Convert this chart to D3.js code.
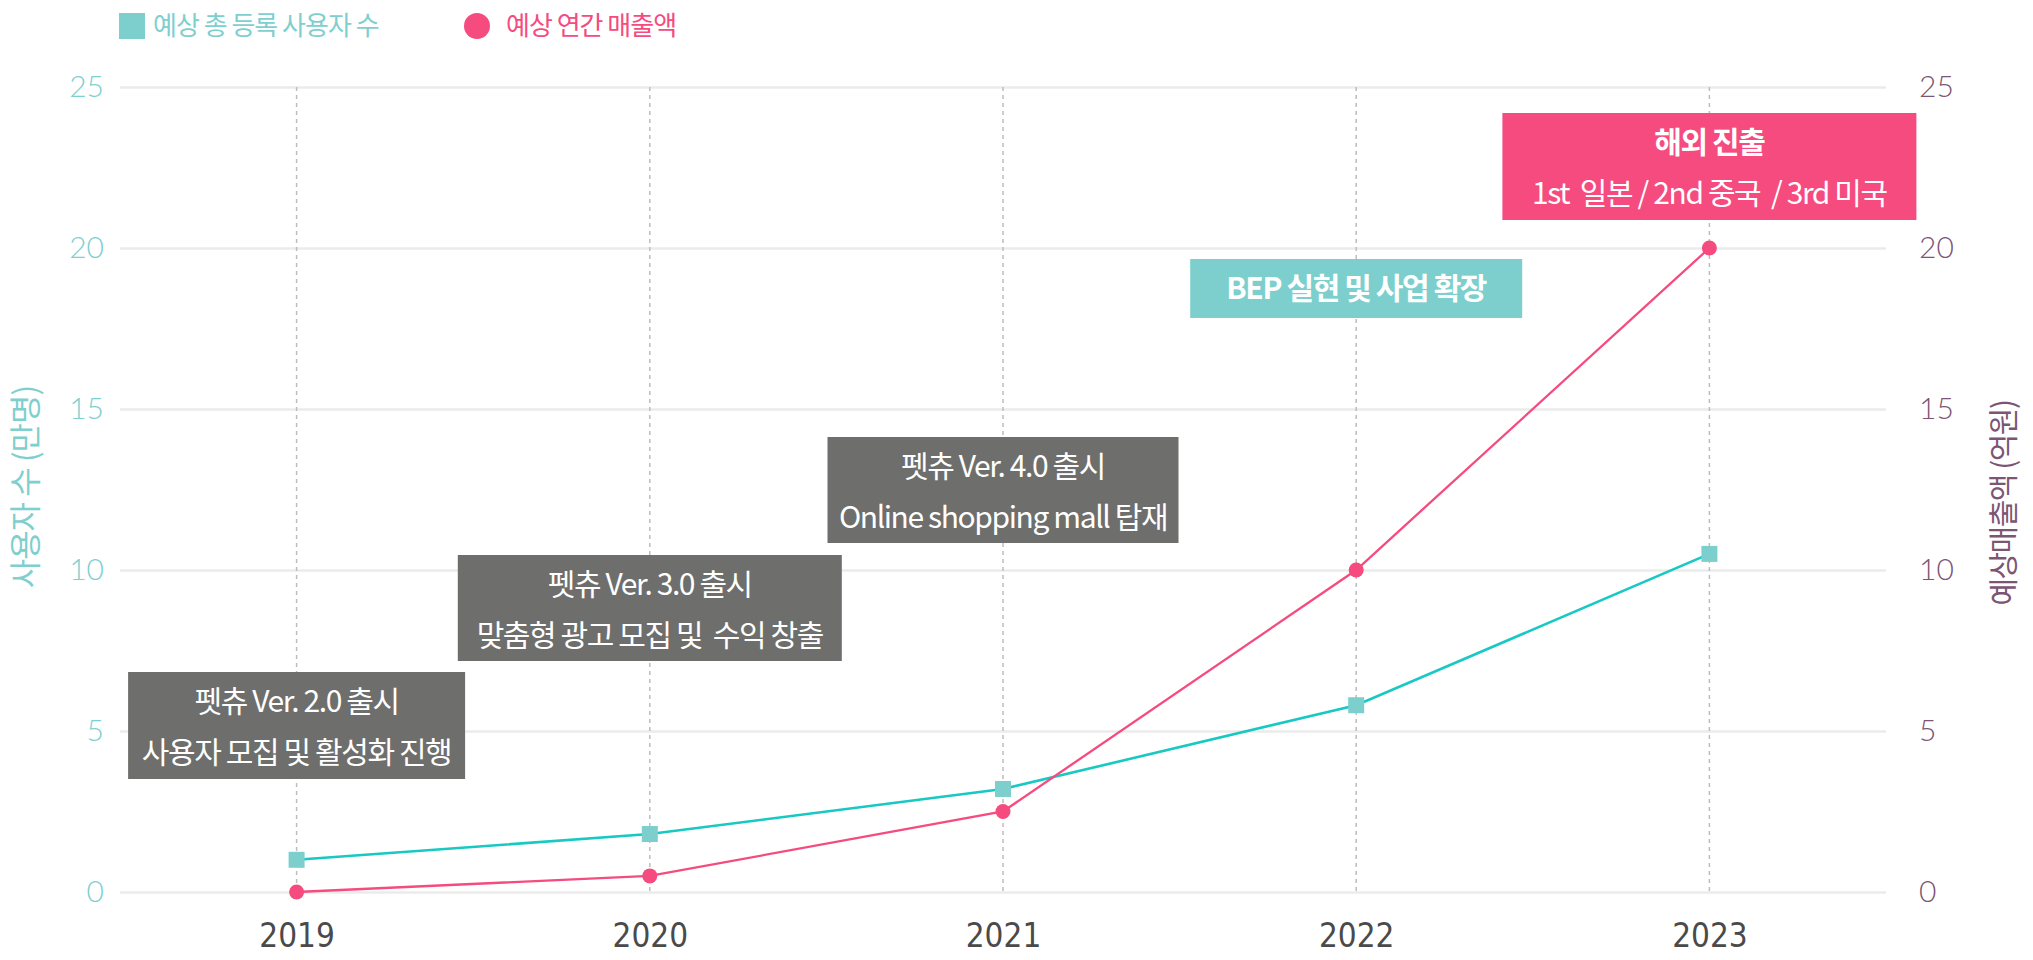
<!DOCTYPE html>
<html>
<head>
<meta charset="utf-8">
<script src="https://cdn.jsdelivr.net/npm/d3@7"></script>
<style>
  body { margin: 0; background: #fff; }
  text { font-family: "Noto Sans CJK KR", "Noto Sans", sans-serif; white-space: pre; }
</style>
</head>
<body>
<div id="graph"></div>
<script>
// data
years = ["2019", "2020", "2021", "2022", "2023"];
users = [1.0, 1.8, 3.2, 5.8, 10.5];       // 예상 총 등록 사용자 수 (만명)
sales = [0, 0.5, 2.5, 10, 20];            // 예상 연간 매출액 (억원)
yTicks = [0, 5, 10, 15, 20, 25];
notes = [
  ["펫츄 Ver. 2.0 출시", "사용자 모집 및 활성화 진행"],
  ["펫츄 Ver. 3.0 출시", "맞춤형 광고 모집 및  수익 창출"],
  ["펫츄 Ver. 4.0 출시", "Online shopping mall 탑재"],
  ["BEP 실현 및 사업 확장"],
  ["해외 진출", "1st  일본 / 2nd 중국  / 3rd 미국"]
];

// layout of the note boxes (width, top, colour, bold first line)
noteBox = [
  {w: 337, top: 672, h: 107, fill: "#6e6e6c", bold: false},
  {w: 384, top: 555, h: 106, fill: "#6e6e6c", bold: false},
  {w: 351, top: 437, h: 106, fill: "#6e6e6c", bold: false},
  {w: 332, top: 259, h: 59,  fill: "#7ccfcd", bold: true},
  {w: 414, top: 113, h: 107, fill: "#f54b7e", bold: true}
];

W = 2033; H = 960;
mLeft = 120; mRight = 1886; mTop = 87; mBottom = 892;
tealLine = "#17c9c2", tealMark = "#7ccfcd", pink = "#f54b7e", mauve = "#7b5573";

svg = d3.select("#graph").append("svg").attr("width", W).attr("height", H);

x = d3.scalePoint().domain(years).range([mLeft, mRight]).padding(0.5);
yL = d3.scaleLinear([0, 25], [mBottom, mTop]);
yR = d3.scaleLinear([0, 25], [mBottom, mTop]);

// horizontal grid
grid = svg.append("g").attr("transform", "translate(" + mLeft + ",0)")
  .call(d3.axisRight(yL).tickValues(yTicks).tickSize(mRight - mLeft).tickFormat(""));
grid.select(".domain").remove();
grid.selectAll("line").attr("stroke", "#ebebeb").attr("stroke-width", 2.5);

// vertical dashed lines
svg.append("g").selectAll("line").data(years).enter().append("line")
  .attr("x1", d => x(d)).attr("x2", d => x(d))
  .attr("y1", yL(25)).attr("y2", yL(0))
  .attr("stroke", "#bdbdbd").attr("stroke-width", 1.5).attr("stroke-dasharray", "4,4");

// left axis
ax = svg.append("g").attr("transform", "translate(" + mLeft + ",0)")
  .call(d3.axisLeft(yL).tickValues(yTicks).tickSize(0).tickPadding(16));
ax.select(".domain").remove();
ax.selectAll("text").attr("fill", "#7ecfce").style("font-family", "Lato, sans-serif")
  .style("font-weight", 300).style("font-size", "30px");

// right axis
ar = svg.append("g").attr("transform", "translate(" + mRight + ",0)")
  .call(d3.axisRight(yR).tickValues(yTicks).tickSize(0).tickPadding(33));
ar.select(".domain").remove();
ar.selectAll("text").attr("fill", mauve).style("font-family", "Lato, sans-serif")
  .style("font-weight", 300).style("font-size", "30px");

// x axis
axx = svg.append("g").attr("transform", "translate(0," + mBottom + ")")
  .call(d3.axisBottom(x).tickSize(0).tickPadding(32));
axx.select(".domain").remove();
axx.selectAll("text").attr("fill", "#4a4a4a")
  .style("font-family", "'Liberation Sans Narrow', 'DejaVu Sans Condensed', sans-serif")
  .style("font-size", "33px");

// axis titles
svg.append("text").attr("transform", "translate(26,487) rotate(-90)")
  .attr("text-anchor", "middle").attr("dy", "0.35em")
  .attr("fill", "#7ecfce").style("font-size", "32px").style("letter-spacing", "-1px")
  .text("사용자 수 (만명)");
svg.append("text").attr("transform", "translate(2003,503) rotate(-90)")
  .attr("text-anchor", "middle").attr("dy", "0.35em")
  .attr("fill", mauve).style("font-size", "30px").style("letter-spacing", "-1.5px")
  .text("예상매출액 (억원)");

// lines
lineU = d3.line().x((d, i) => x(years[i])).y(d => yL(d));
lineS = d3.line().x((d, i) => x(years[i])).y(d => yR(d));
svg.append("path").datum(users).attr("fill", "none").attr("stroke", tealLine)
  .attr("stroke-width", 2.6).attr("d", lineU);
svg.append("path").datum(sales).attr("fill", "none").attr("stroke", pink)
  .attr("stroke-width", 2.3).attr("d", lineS);

svg.append("g").selectAll("rect").data(users).enter().append("rect")
  .attr("x", (d, i) => x(years[i]) - 8).attr("y", d => yL(d) - 8)
  .attr("width", 16).attr("height", 16).attr("fill", tealMark);
svg.append("g").selectAll("circle").data(sales).enter().append("circle")
  .attr("cx", (d, i) => x(years[i])).attr("cy", d => yR(d))
  .attr("r", 7.5).attr("fill", pink);

// note boxes
notes.forEach(function(lines, i) {
  b = noteBox[i];
  cx = x(years[i]);
  g = svg.append("g");
  g.append("rect").attr("x", cx - b.w / 2).attr("y", b.top)
    .attr("width", b.w).attr("height", b.h).attr("fill", b.fill);
  lines.forEach(function(t, j) {
    g.append("text").attr("x", cx)
      .attr("y", lines.length == 1 ? b.top + b.h / 2 : b.top + 29 + j * 51)
      .attr("dy", "0.35em").attr("text-anchor", "middle").attr("fill", "#fff")
      .style("font-size", "30px").style("letter-spacing", "-1.4px")
      .style("font-weight", (b.bold && j == 0) ? 700 : 400)
      .text(t);
  });
});

// legend
svg.append("rect").attr("x", 119).attr("y", 13).attr("width", 26).attr("height", 26).attr("fill", tealMark);
svg.append("text").attr("x", 153).attr("y", 26).attr("dy", "0.35em").attr("fill", "#7ecfce")
  .style("font-size", "26px").style("letter-spacing", "-1px").text("예상 총 등록 사용자 수");
svg.append("circle").attr("cx", 477).attr("cy", 26).attr("r", 13).attr("fill", pink);
svg.append("text").attr("x", 506).attr("y", 26).attr("dy", "0.35em").attr("fill", pink)
  .style("font-size", "26px").style("letter-spacing", "-1px").text("예상 연간 매출액");
</script>
</body>
</html>
